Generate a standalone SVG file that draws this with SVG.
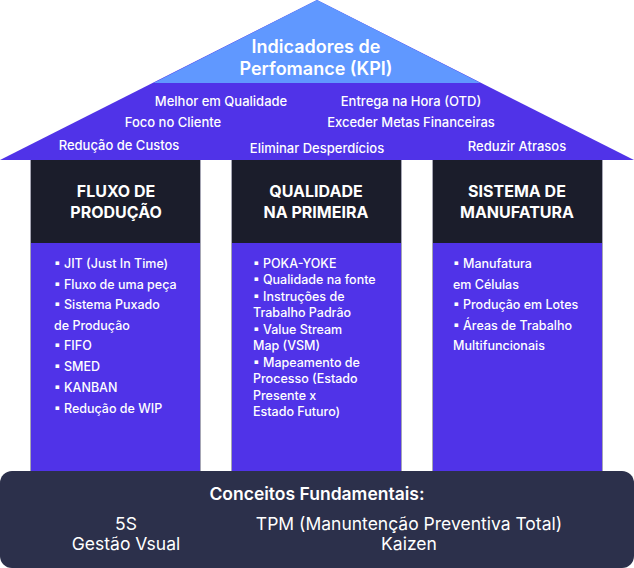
<svg xmlns="http://www.w3.org/2000/svg" width="634" height="568" viewBox="0 0 634 568">
  <style>
    text { font-family: Inter, "Noto Sans", "Liberation Sans", sans-serif; fill: #ffffff; }
    .title { font-size: 18px; font-weight: 600; text-anchor: middle; }
    .kpi { font-size: 13px; font-weight: 500; text-anchor: middle; }
    .head { font-size: 16px; font-weight: 700; text-anchor: middle; }
    .item { font-size: 12.5px; font-weight: 500; }
    .basehead { font-size: 17.5px; font-weight: 600; text-anchor: middle; }
    .basetxt { font-size: 17.5px; font-weight: 400; text-anchor: middle; }
    .pillar-top { fill: #1B1D2B; }
    .pillar-body { fill: #5033E8; }
    .pillar-edge { fill: none; stroke: #A6A6B4; stroke-width: 1; }
  </style>
  <rect width="634" height="568" fill="#ffffff"/>

  <g id="roof">
    <polygon points="0,160 317,0 634,160" fill="#5033E8"/>
    <polygon points="153.5,83 317,0 480.5,83" fill="#6098FF"/>
    <text class="title" x="316" y="53">Indicadores de</text>
    <text class="title" x="316" y="75">Perfomance (KPI)</text>
    <text class="kpi" x="221" y="106">Melhor em Qualidade</text>
    <text class="kpi" x="411" y="106">Entrega na Hora (OTD)</text>
    <text class="kpi" x="173" y="127">Foco no Cliente</text>
    <text class="kpi" x="411" y="127">Exceder Metas Financeiras</text>
    <text class="kpi" x="119" y="150">Redução de Custos</text>
    <text class="kpi" x="317" y="153">Eliminar Desperdícios</text>
    <text class="kpi" x="517" y="151">Reduzir Atrasos</text>
  </g>

  <g id="pillar-fluxo">
    <rect class="pillar-edge" x="30.5" y="160.5" width="170" height="320"/>
    <rect class="pillar-top" x="31" y="160" width="169" height="83"/>
    <rect class="pillar-body" x="31" y="243" width="169" height="240"/>
    <text class="head" x="116" y="197">FLUXO DE</text>
    <text class="head" x="116" y="218">PRODUÇÃO</text>
    <text class="item" x="54" y="267.5">▪ JIT (Just In Time)</text>
    <text class="item" x="54" y="288.5">▪ Fluxo de uma peça</text>
    <text class="item" x="54" y="308.5">▪ Sistema Puxado</text>
    <text class="item" x="54" y="329.5">de Produção</text>
    <text class="item" x="54" y="349.5">▪ FIFO</text>
    <text class="item" x="54" y="370.5">▪ SMED</text>
    <text class="item" x="54" y="391.5">▪ KANBAN</text>
    <text class="item" x="54" y="412.5">▪ Redução de WIP</text>
  </g>

  <g id="pillar-qualidade">
    <rect class="pillar-edge" x="231.5" y="160.5" width="170" height="320"/>
    <rect class="pillar-top" x="232" y="160" width="169" height="83"/>
    <rect class="pillar-body" x="232" y="243" width="169" height="240"/>
    <text class="head" x="316" y="197">QUALIDADE</text>
    <text class="head" x="316" y="218">NA PRIMEIRA</text>
    <text class="item" x="253" y="267.5">▪ POKA-YOKE</text>
    <text class="item" x="253" y="284">▪ Qualidade na fonte</text>
    <text class="item" x="253" y="300.5">▪ Instruções de</text>
    <text class="item" x="253" y="317">Trabalho Padrão</text>
    <text class="item" x="253" y="333.5">▪ Value Stream</text>
    <text class="item" x="253" y="350">Map (VSM)</text>
    <text class="item" x="253" y="366.5">▪ Mapeamento de</text>
    <text class="item" x="253" y="383">Processo (Estado</text>
    <text class="item" x="253" y="399.5">Presente x</text>
    <text class="item" x="253" y="416">Estado Futuro)</text>
  </g>

  <g id="pillar-sistema">
    <rect class="pillar-edge" x="432.5" y="160.5" width="170" height="320"/>
    <rect class="pillar-top" x="433" y="160" width="169" height="83"/>
    <rect class="pillar-body" x="433" y="243" width="169" height="240"/>
    <text class="head" x="517" y="197">SISTEMA DE</text>
    <text class="head" x="517" y="218">MANUFATURA</text>
    <text class="item" x="453" y="267.5">▪ Manufatura</text>
    <text class="item" x="453" y="288.5">em Células</text>
    <text class="item" x="453" y="308.5">▪ Produção em Lotes</text>
    <text class="item" x="453" y="329.5">▪ Áreas de Trabalho</text>
    <text class="item" x="453" y="349.5">Multifuncionais</text>
  </g>

  <g id="base">
    <rect x="0" y="471" width="634" height="97" rx="12" ry="12" fill="#2C304B"/>
    <text class="basehead" x="317" y="500">Conceitos Fundamentais:</text>
    <text class="basetxt" x="126" y="530">5S</text>
    <text class="basetxt" x="126" y="550">Gestão Vsual</text>
    <text class="basetxt" x="409" y="530">TPM (Manuntenção Preventiva Total)</text>
    <text class="basetxt" x="409" y="550">Kaizen</text>
  </g>
</svg>
